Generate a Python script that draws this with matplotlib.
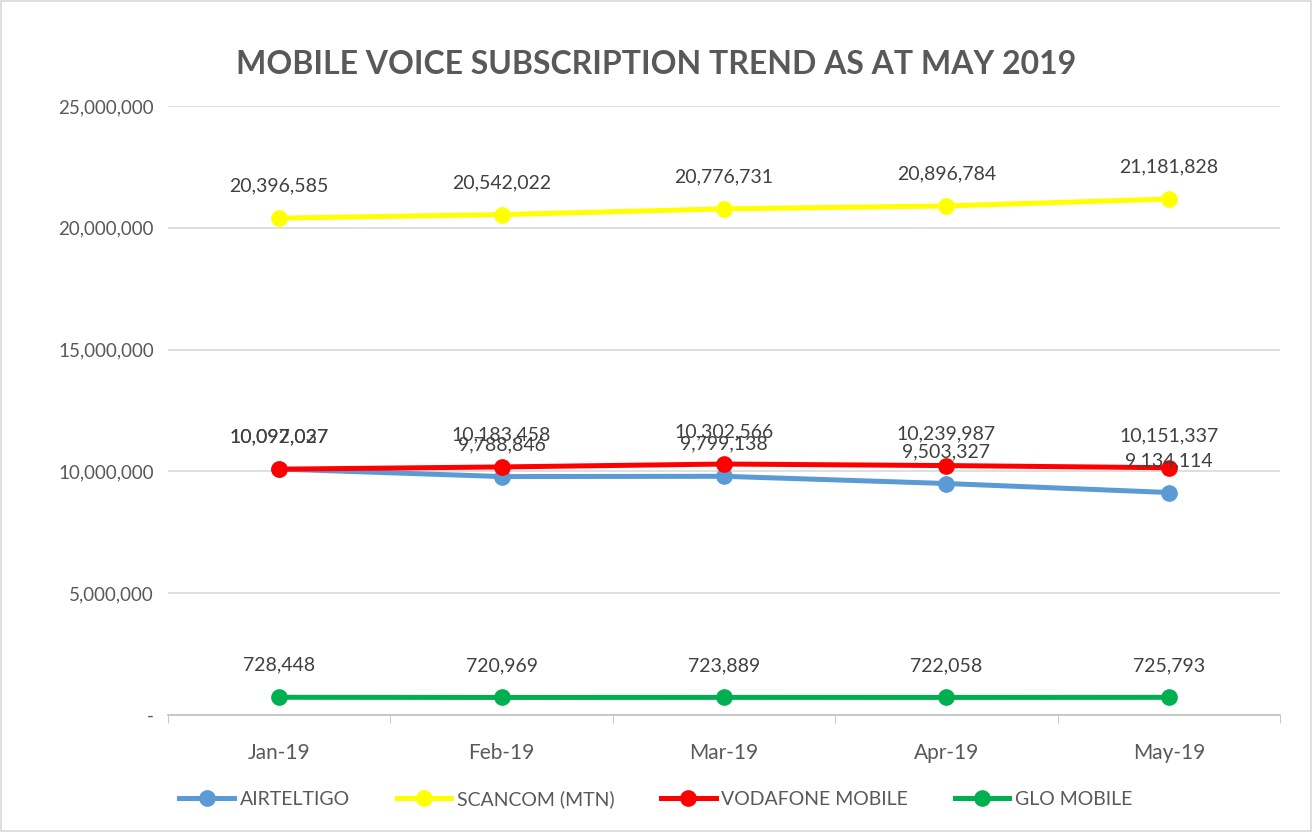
import matplotlib
matplotlib.use('Agg')
import matplotlib.pyplot as plt
from matplotlib.ticker import FuncFormatter
from matplotlib.patches import Rectangle

months = ['Jan-19', 'Feb-19', 'Mar-19', 'Apr-19', 'May-19']
airteltigo = [10097027, 9788846, 9799138, 9503327, 9134114]
scancom = [20396585, 20542022, 20776731, 20896784, 21181828]
vodafone = [10092037, 10183458, 10302566, 10239987, 10151337]
glo = [728448, 720969, 723889, 722058, 725793]

series = [
    ('AIRTELTIGO', airteltigo, '#5B9BD5'),
    ('SCANCOM (MTN)', scancom, '#FFFF00'),
    ('VODAFONE MOBILE', vodafone, '#FF0000'),
    ('GLO MOBILE', glo, '#00B050'),
]

plt.rcParams['font.family'] = ['Lato', 'DejaVu Sans']
text_col = '#595959'

fig = plt.figure(figsize=(13.12, 8.32), dpi=100)
ax = fig.add_axes([0.128, 0.1406, 0.8476, 0.732])

x = list(range(len(months)))
for name, vals, col in series:
    ax.plot(x, vals, '-o', color=col, label=name, linewidth=3.6, markersize=11, zorder=3)
    for xi, v in zip(x, vals):
        ax.annotate(f'{v:,}', (xi, v), xytext=(0, 23), textcoords='offset points',
                    ha='center', va='center', fontsize=14, color='#404040', zorder=4)

ax.set_xlim(-0.5, len(months) - 0.5)
ax.set_ylim(0, 25000000)
ax.set_yticks(range(0, 25000001, 5000000))
ax.yaxis.set_major_formatter(FuncFormatter(lambda v, p: '-' if v == 0 else f'{int(v):,}'))
ax.set_xticks(x)
ax.set_xticklabels(months)
ax.set_xticks([i - 0.5 for i in range(len(months) + 1)], minor=True)
ax.tick_params(axis='x', which='major', length=0, pad=20, labelsize=15, labelcolor=text_col)
ax.tick_params(axis='x', which='minor', length=6, color='#bfbfbf')
ax.tick_params(axis='y', length=0, labelsize=13.5, labelcolor=text_col, pad=10)
ax.grid(axis='y', color='#d9d9d9', linewidth=1.2, zorder=0)
for s in ['top', 'right', 'left']:
    ax.spines[s].set_visible(False)
ax.spines['bottom'].set_color('#bfbfbf')
ax.spines['bottom'].set_linewidth(1.2)

fig.suptitle('MOBILE VOICE SUBSCRIPTION TREND AS AT MAY 2019', y=0.94,
             fontsize=23, fontweight='bold', color=text_col)

leg = fig.legend(loc='center', bbox_to_anchor=(0.5, 0.04), ncol=4, frameon=False,
                 fontsize=14, handlelength=2.8, columnspacing=2.4, handletextpad=0.3)
for t in leg.get_texts():
    t.set_color(text_col)

fig.patches.append(Rectangle((0.001, 0.001), 0.998, 0.998, transform=fig.transFigure,
                             fill=False, edgecolor='#d9d9d9', linewidth=1.2))

plt.savefig('out.png', dpi=100)
plt.close()
